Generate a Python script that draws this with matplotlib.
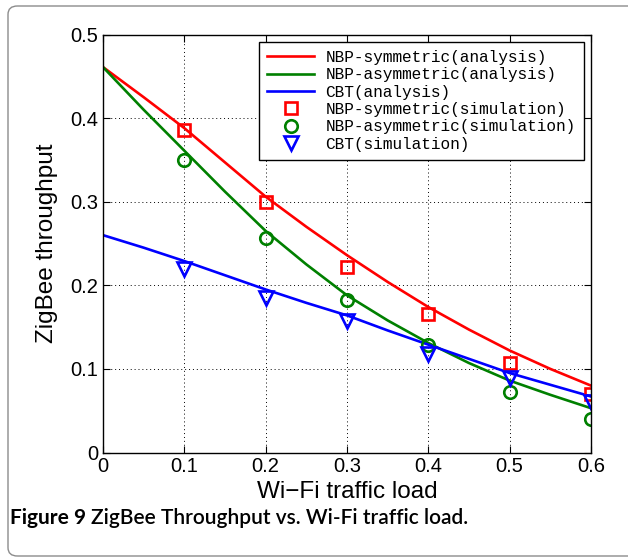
import numpy as np
import matplotlib
matplotlib.use('Agg')
import matplotlib.pyplot as plt
from matplotlib.patches import FancyBboxPatch

# Wi-Fi traffic load values
load = [0.0, 0.05, 0.1, 0.15, 0.2, 0.25, 0.3, 0.35, 0.4, 0.45, 0.5, 0.55, 0.6]

# analysis curves
sym_analysis = [0.461, 0.425, 0.388, 0.347, 0.306, 0.270, 0.236, 0.204, 0.174, 0.147, 0.122, 0.100, 0.080]
asym_analysis = [0.461, 0.410, 0.361, 0.312, 0.265, 0.225, 0.188, 0.158, 0.131, 0.107, 0.086, 0.069, 0.053]
cbt_analysis = [0.260, 0.245, 0.229, 0.212, 0.195, 0.179, 0.164, 0.146, 0.129, 0.112, 0.095, 0.081, 0.067]

# simulation points
sim_load = [0.1, 0.2, 0.3, 0.4, 0.5, 0.6]
sym_sim = [0.386, 0.300, 0.222, 0.166, 0.107, 0.070]
asym_sim = [0.350, 0.256, 0.183, 0.129, 0.072, 0.040]
cbt_sim = [0.220, 0.185, 0.157, 0.118, 0.089, 0.061]

xticks = [0, 0.1, 0.2, 0.3, 0.4, 0.5, 0.6]
yticks = [0, 0.1, 0.2, 0.3, 0.4, 0.5]

plt.rcParams['font.family'] = ['Liberation Sans', 'DejaVu Sans']

fig = plt.figure(figsize=(6.28, 5.59), dpi=100)

# rounded card border
card = FancyBboxPatch((8 / 628, 3 / 559), 640 / 628, 550 / 559,
                      boxstyle='round,pad=0,rounding_size=0.015',
                      transform=fig.transFigure, fill=False,
                      edgecolor='#8c8c8c', linewidth=1.0)
fig.patches.append(card)

ax = fig.add_axes([103 / 628, 1 - 452.5 / 559, 488 / 628, 418 / 559])

ax.plot(load, sym_analysis, color='red', lw=1.9, label='NBP-symmetric(analysis)')
ax.plot(load, asym_analysis, color='green', lw=1.9, label='NBP-asymmetric(analysis)')
ax.plot(load, cbt_analysis, color='blue', lw=1.9, label='CBT(analysis)')
ax.plot(sim_load, sym_sim, 's', color='red', mfc='none', mew=1.9, ms=8.5,
        label='NBP-symmetric(simulation)')
ax.plot(sim_load, asym_sim, 'o', color='green', mfc='none', mew=1.9, ms=9,
        label='NBP-asymmetric(simulation)')
ax.plot(sim_load, cbt_sim, 'v', color='blue', mfc='none', mew=1.9, ms=10,
        label='CBT(simulation)')

ax.set_xlim(0, 0.6)
ax.set_ylim(0, 0.5)
ax.set_xticks(xticks)
ax.set_yticks(yticks)
ax.set_xticklabels(['0', '0.1', '0.2', '0.3', '0.4', '0.5', '0.6'])
ax.set_yticklabels(['0', '0.1', '0.2', '0.3', '0.4', '0.5'])
ax.tick_params(direction='in', top=True, right=True, labelsize=14.5, length=5, width=0.8)
ax.grid(True, linestyle=(0, (1, 3)), color='black', linewidth=0.7)
for s in ax.spines.values():
    s.set_linewidth(1.0)

ax.set_xlabel('Wi\u2212Fi traffic load', fontsize=17.5, labelpad=3)
ax.set_ylabel('ZigBee throughput', fontsize=17.5, labelpad=9)

leg = ax.legend(loc='upper right', prop={'family': 'Liberation Mono', 'size': 11.6},
                frameon=True, fancybox=False, edgecolor='black', framealpha=1,
                handlelength=2.9, labelspacing=0.15, borderaxespad=0.45,
                borderpad=0.5, handletextpad=0.7, numpoints=1)
leg.get_frame().set_linewidth(1.0)

# caption: bold label followed by the title
cap_y = 1 - 518 / 559
t1 = fig.text(10 / 628, cap_y, 'Figure 9', fontsize=15, fontweight='bold',
              family=['Lato', 'DejaVu Sans'], va='center')
fig.canvas.draw()
bb = t1.get_window_extent()
fig.text((bb.x1 + 5) / 628, cap_y, 'ZigBee Throughput vs. Wi-Fi traffic load.',
         fontsize=15, fontweight='semibold', family=['Lato', 'DejaVu Sans'], va='center')

fig.savefig('out.png', dpi=100)
